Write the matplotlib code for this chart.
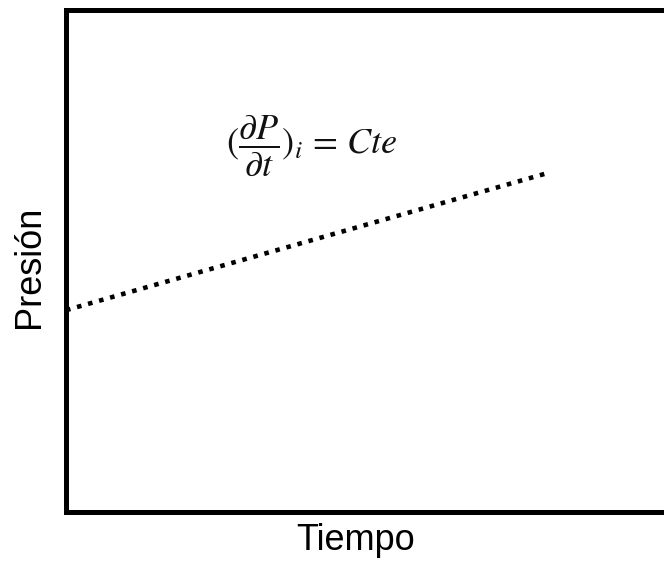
import matplotlib
matplotlib.use("Agg")
import matplotlib.pyplot as plt

# Data
tiempo = [0.0, 0.759]
presion = [0.402, 0.675]
x_label = "Tiempo"
y_label = "Presión"
formula = r"$(\dfrac{\partial P}{\partial t})_i\,=\,Cte$"

plt.rcParams["mathtext.fontset"] = "stix"

W, H = 664, 562
fig = plt.figure(figsize=(W / 100, H / 100), dpi=100)
ax = fig.add_axes([66 / W, (H - 512) / H, (700 - 66) / W, (512 - 10) / H])
ax.set_xlim(0, 1)
ax.set_ylim(0, 1)
for s in ax.spines.values():
    s.set_linewidth(3.6)
    s.set_color("black")
ax.set_xticks([])
ax.set_yticks([])

ax.plot(tiempo, presion, color="black", lw=3.3, linestyle=(0, (1, 1.5)),
        solid_capstyle="butt", dash_capstyle="butt")

ax.text(0.388, 0.731, formula, transform=ax.transAxes, ha="center", va="center",
        fontsize=26, color="#111111")

ax.set_xlabel(x_label, fontsize=26, family="Liberation Sans")
ax.xaxis.set_label_coords(0.457, -0.056)
ax.xaxis.label.set_va("center")
ax.set_ylabel(y_label, fontsize=26, family="Liberation Sans")
ax.yaxis.set_label_coords(-0.058, 0.488)
ax.yaxis.label.set_va("center")

fig.savefig("out.png", dpi=100)
